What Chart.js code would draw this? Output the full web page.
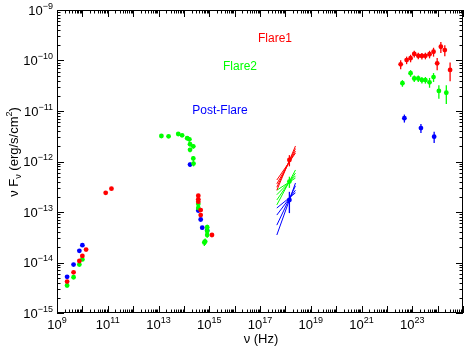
<!DOCTYPE html>
<html>
<head>
<meta charset="utf-8">
<script src="https://cdn.jsdelivr.net/npm/chart.js@4"></script>
<style>
  body { margin: 0; background: #fff; }
  #wrap { width: 467px; height: 346px; position: relative; }
</style>
</head>
<body>
<div id="wrap"><canvas id="sed"></canvas></div>
<script>
// series names and colours
const seriesNames = ['Flare1', 'Flare2', 'Post-Flare'];
const seriesColors = ['#ff0000', '#00ff00', '#0000ff'];

// Flare1 (red): frequency (Hz), nuFnu (erg/s/cm2), relative error
const flare1Freq = [2.5e9, 4.5e9, 7.6e9, 1.0e10, 1.4e10, 8.3e10, 1.4e11,
  3.7e14, 3.7e14, 3.7e14, 4.6e14, 4.6e14, 1.28e15, 1.44e18,
  3.5e22, 6.0e22, 8.6e22, 1.2e23, 1.73e23, 2.4e23, 3.3e23, 4.8e23, 6.9e23, 9.6e23, 1.34e24, 1.92e24, 3.1e24];
const flare1Flux = [4.2e-15, 6.4e-15, 1.07e-14, 1.35e-14, 1.8e-14, 2.4e-13, 2.9e-13,
  2.1e-13, 1.78e-13, 1.6e-13, 1.09e-13, 8.7e-14, 3.5e-14, 1.07e-12,
  8.4e-11, 1.02e-10, 1.11e-10, 1.35e-10, 1.24e-10, 1.23e-10, 1.24e-10, 1.33e-10, 1.49e-10, 8.8e-11, 1.87e-10, 1.61e-10, 6.5e-11];
const flare1Err = [0, 0, 0, 0, 0, 0.06, 0.06,
  0.08, 0.08, 0.08, 0.08, 0.08, 0.08, 0.25,
  0.2, 0.17, 0.17, 0.15, 0.15, 0.15, 0.15, 0.17, 0.2, 0.27, 0.25, 0.25, 0.4];

// Flare2 (green)
const flare2Freq = [2.5e9, 4.5e9, 7.6e9, 1.0e10,
  1.3e13, 2.5e13, 6e13, 8.5e13, 1.35e14, 1.65e14, 1.75e14, 2.35e14, 1.75e14, 2.35e14, 2.4e14,
  3.7e14, 3.7e14, 8.3e14, 8.3e14, 8.3e14, 6.9e14, 6.4e14, 1.44e18,
  4.1e22, 8.6e22, 1.2e23, 1.73e23, 2.4e23, 3.3e23, 4.8e23, 6.9e23, 1.12e24, 2.2e24];
const flare2Flux = [3.5e-15, 5.1e-15, 9.1e-15, 1.15e-14,
  3.2e-12, 3.15e-12, 3.5e-12, 3.3e-12, 2.9e-12, 2.75e-12, 2.2e-12, 2.0e-12, 1.7e-12, 1.15e-12, 9.1e-13,
  1.44e-13, 1.2e-13, 5.0e-14, 4.2e-14, 3.5e-14, 2.6e-14, 2.5e-14, 4.0e-13,
  3.55e-11, 5.6e-11, 4.4e-11, 4.4e-11, 4.1e-11, 4.1e-11, 3.7e-11, 4.7e-11, 2.5e-11, 2.3e-11];
const flare2Err = [0, 0, 0, 0,
  0.05, 0.05, 0.05, 0.05, 0.1, 0.1, 0.1, 0.1, 0.1, 0.12, 0.12,
  0.1, 0.1, 0.12, 0.12, 0.12, 0.15, 0.15, 0.25,
  0.15, 0.15, 0.15, 0.15, 0.15, 0.15, 0.22, 0.2, 0.3, 0.4];

// Post-Flare (blue)
const postFreq = [2.5e9, 4.5e9, 7.6e9, 1.0e10, 1.75e14,
  3.7e14, 4.6e14, 5.3e14, 8.3e14, 1.44e18, 4.9e22, 2.2e23, 7.3e23];
const postFlux = [5.2e-15, 9.1e-15, 1.7e-14, 2.2e-14, 8.7e-13,
  1.07e-13, 7.1e-14, 4.9e-14, 4.3e-14, 1.73e-13, 7.2e-12, 4.6e-12, 3.1e-12];
const postErr = [0, 0, 0, 0, 0.1,
  0.08, 0.08, 0.08, 0.08, 0.45, 0.18, 0.2, 0.25];

// X-ray bow-ties: band edges (Hz) and flux at each edge for every fit line
const xrayBand = [4.6e17, 2.5e18];
const flare1Bow = [[2.7e-13, 2.03e-12], [3.1e-13, 1.8e-12], [3.6e-13, 1.6e-12], [4.3e-13, 1.47e-12]];
const flare2Bow = [[1.38e-13, 6.8e-13], [1.73e-13, 5.9e-13], [2.2e-13, 5.2e-13], [2.7e-13, 4.7e-13]];
const postBow = [[3.5e-14, 3.75e-13], [5.5e-14, 3.3e-13], [8.7e-14, 2.7e-13], [1.2e-13, 2.4e-13]];

// axis ranges and labelled decades
const xRange = [1e9, 1e25];
const yRange = [1e-15, 1e-9];
const xLabelExps = [9, 11, 13, 15, 17, 19, 21, 23];
const yLabelExps = [-15, -14, -13, -12, -11, -10, -9];

const FONT = '"Liberation Sans", Arial, sans-serif';

function pts(fx, fy) {
  return fx.map(function(v, i) { return { x: v, y: fy[i] }; });
}

function pointSet(i, fx, fy, errs) {
  return {
    label: seriesNames[i],
    data: pts(fx, fy),
    errs: errs,
    backgroundColor: seriesColors[i],
    borderColor: seriesColors[i],
    pointRadius: 2.4,
    pointBorderWidth: 0,
    showLine: false
  };
}

function bowSets(i, bow) {
  return bow.map(function(b) {
    return {
      label: seriesNames[i] + ' X',
      data: [{ x: xrayBand[0], y: b[0] }, { x: xrayBand[1], y: b[1] }],
      borderColor: seriesColors[i],
      borderWidth: 1,
      pointRadius: 0,
      showLine: true
    };
  });
}

// text with raised / lowered parts
function richText(ctx, parts, x, y, align) {
  let w = 0;
  parts.forEach(function(p) {
    ctx.font = p.size + 'px ' + FONT;
    p.w = ctx.measureText(p.t).width;
    w += p.w;
  });
  let cx = align == 'center' ? x - w / 2 : (align == 'right' ? x - w : x);
  ctx.textAlign = 'left';
  parts.forEach(function(p) {
    ctx.font = p.size + 'px ' + FONT;
    ctx.fillText(p.t, cx, y + (p.dy || 0));
    cx += p.w;
  });
}

function powLabel(exp) {
  let e = exp < 0 ? '\u2212' + (-exp) : String(exp);
  return [{ t: '10', size: 13 }, { t: e, size: 9, dy: -6 }];
}

const sedDecor = {
  id: 'sedDecor',
  beforeDatasetsDraw(chart) {
    const ctx = chart.ctx;
    const xs = chart.scales.x, ys = chart.scales.y;
    ctx.save();
    chart.data.datasets.forEach(function(ds) {
      if (!ds.errs) return;
      ctx.strokeStyle = ds.borderColor;
      ctx.lineWidth = 1.3;
      ds.data.forEach(function(p, j) {
        const e = ds.errs[j];
        if (!e) return;
        const px = xs.getPixelForValue(p.x);
        ctx.beginPath();
        ctx.moveTo(px, ys.getPixelForValue(p.y * (1 + e)));
        ctx.lineTo(px, ys.getPixelForValue(p.y * (1 - e)));
        ctx.stroke();
      });
    });
    ctx.restore();
  },
  afterDraw(chart) {
    const ctx = chart.ctx;
    const a = chart.chartArea;
    const xs = chart.scales.x, ys = chart.scales.y;
    ctx.save();
    ctx.strokeStyle = '#000';
    ctx.lineWidth = 1;
    ctx.strokeRect(a.left + 0.5, a.top + 0.5, a.right - a.left - 1, a.bottom - a.top - 1);

    // log ticks, pointing inward on all four sides
    ctx.beginPath();
    for (let d = 9; d <= 25; d++) {
      for (let k = 1; k <= 9; k++) {
        const v = k * Math.pow(10, d);
        if (v > xRange[1] * 1.0001) break;
        const px = Math.round(xs.getPixelForValue(v)) + 0.5;
        const len = k == 1 ? 7 : 3.5;
        ctx.moveTo(px, a.bottom); ctx.lineTo(px, a.bottom - len);
        ctx.moveTo(px, a.top); ctx.lineTo(px, a.top + len);
      }
    }
    for (let d = -15; d <= -9; d++) {
      for (let k = 1; k <= 9; k++) {
        const v = k * Math.pow(10, d);
        if (v > yRange[1] * 1.0001) break;
        const py = Math.round(ys.getPixelForValue(v)) + 0.5;
        const len = k == 1 ? 7 : 3.5;
        ctx.moveTo(a.left, py); ctx.lineTo(a.left + len, py);
        ctx.moveTo(a.right, py); ctx.lineTo(a.right - len, py);
      }
    }
    ctx.stroke();

    // tick labels
    ctx.fillStyle = '#000';
    ctx.textBaseline = 'alphabetic';
    xLabelExps.forEach(function(e) {
      richText(ctx, powLabel(e), xs.getPixelForValue(Math.pow(10, e)), a.bottom + 16, 'center');
    });
    yLabelExps.forEach(function(e) {
      richText(ctx, powLabel(e), a.left - 4, ys.getPixelForValue(Math.pow(10, e)) + 4.5, 'right');
    });

    // axis titles
    richText(ctx, [{ t: '\u03bd (Hz)', size: 13 }], 261, 343, 'center');
    ctx.save();
    ctx.translate(13, 152);
    ctx.rotate(-Math.PI / 2);
    richText(ctx, [
      { t: '\u03bd F', size: 13 },
      { t: '\u03bd', size: 9, dy: 3 },
      { t: ' (erg/s/cm', size: 13 },
      { t: '2', size: 9, dy: -6 },
      { t: ')', size: 13 }
    ], 0, 4.5, 'center');
    ctx.restore();

    // series names inside the plot
    const namePos = [[275, 42], [240, 70], [220, 114]];
    seriesNames.forEach(function(n, i) {
      ctx.fillStyle = seriesColors[i];
      richText(ctx, [{ t: n, size: 12 }], namePos[i][0], namePos[i][1], 'center');
    });
    ctx.restore();
  }
};

const datasets = [].concat(
  bowSets(0, flare1Bow), bowSets(1, flare2Bow), bowSets(2, postBow),
  [pointSet(0, flare1Freq, flare1Flux, flare1Err),
   pointSet(1, flare2Freq, flare2Flux, flare2Err),
   pointSet(2, postFreq, postFlux, postErr)]
);

new Chart(document.getElementById('sed'), {
  type: 'scatter',
  data: { datasets: datasets },
  options: {
    responsive: true,
    maintainAspectRatio: false,
    animation: false,
    events: [],
    layout: { padding: { left: 57, right: 2, top: 10, bottom: 33 } },
    plugins: { legend: { display: false }, tooltip: { enabled: false } },
    scales: {
      x: { type: 'logarithmic', display: false, min: xRange[0], max: xRange[1] },
      y: { type: 'logarithmic', display: false, min: yRange[0], max: yRange[1] }
    }
  },
  plugins: [sedDecor]
});
</script>
</body>
</html>
